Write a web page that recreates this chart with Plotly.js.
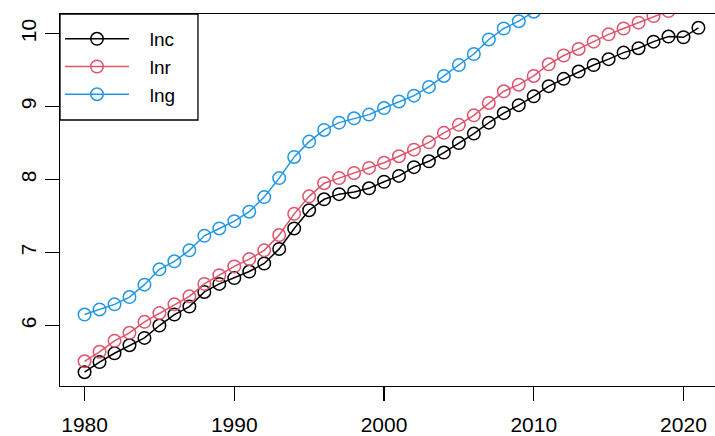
<!DOCTYPE html>
<html>
<head>
<meta charset="utf-8">
<script src="https://cdn.plot.ly/plotly-3.0.1.min.js"></script>
<style>
  html, body { margin: 0; padding: 0; background: #fff; overflow: hidden; width: 715px; height: 436px; }
  #plot { width: 730px; height: 436px; }
</style>
</head>
<body>
<div id="plot"></div>
<script>
// Years observed
const years = [];
for (let y = 1980; y <= 2021; y++) years.push(y);

// Log series
const lnc = [5.36, 5.50, 5.62, 5.73, 5.83, 6.00, 6.15, 6.26, 6.46, 6.57,
             6.65, 6.74, 6.85, 7.05, 7.33, 7.58, 7.73, 7.80, 7.83, 7.88,
             7.97, 8.05, 8.17, 8.25, 8.37, 8.50, 8.63, 8.78, 8.91, 9.02,
             9.14, 9.28, 9.38, 9.48, 9.57, 9.65, 9.74, 9.80, 9.89, 9.96,
             9.95, 10.08];
const lnr = [5.51, 5.64, 5.79, 5.90, 6.05, 6.17, 6.29, 6.40, 6.57, 6.69,
             6.81, 6.91, 7.03, 7.24, 7.53, 7.77, 7.95, 8.02, 8.09, 8.16,
             8.23, 8.32, 8.41, 8.51, 8.64, 8.75, 8.88, 9.05, 9.21, 9.30,
             9.42, 9.58, 9.70, 9.79, 9.89, 9.99, 10.07, 10.15, 10.24, 10.31];
const lng = [6.15, 6.22, 6.29, 6.39, 6.56, 6.77, 6.88, 7.03, 7.23, 7.33,
             7.43, 7.56, 7.76, 8.02, 8.31, 8.52, 8.68, 8.78, 8.84, 8.89,
             8.98, 9.07, 9.15, 9.27, 9.42, 9.57, 9.72, 9.92, 10.07, 10.17,
             10.30];

const seriesNames = ['lnc', 'lnr', 'lng'];
const seriesColors = ['#000000', '#DF536B', '#2297E6'];
const seriesValues = [lnc, lnr, lng];
const xTicks = [1980, 1990, 2000, 2010, 2020];
const yTicks = [6, 7, 8, 9, 10];

const FONT = '"Liberation Sans", Arial, Helvetica, sans-serif';
// extra room between legend key and label
const LEGEND_GAP = '\u00a0\u00a0\u00a0';

// axis limits padded 4% around the lnc range, as base R does
const pad = (lo, hi) => { const d = (hi - lo) * 0.04; return [lo - d, hi + d]; };
const xr = pad(years[0], years[years.length - 1]);
const yr = pad(Math.min(...lnc), Math.max(...lnc));

const traces = seriesValues.map((vals, i) => ({
  type: 'scatter',
  mode: 'lines+markers',
  name: LEGEND_GAP + seriesNames[i],
  x: years.slice(0, vals.length),
  y: vals,
  line: { color: seriesColors[i], width: 1.5 },
  marker: { symbol: 'circle-open', size: 12.5, color: seriesColors[i], line: { width: 1.5, color: seriesColors[i] } },
  cliponaxis: true
}));

const axisCommon = {
  showgrid: false,
  zeroline: false,
  showline: true,
  mirror: true,
  linecolor: '#000',
  linewidth: 1.3,
  ticks: 'outside',
  ticklen: 14,
  tickwidth: 1.3,
  tickcolor: '#000',
  tickfont: { family: FONT, size: 21, color: '#000' }
};

const layout = {
  width: 730,
  height: 436,
  margin: { l: 60, r: 7, t: 14, b: 50 },
  paper_bgcolor: '#fff',
  plot_bgcolor: '#fff',
  showlegend: true,
  xaxis: Object.assign({}, axisCommon, {
    range: xr, tickmode: 'array', tickvals: xTicks, ticktext: xTicks.map(String),
    ticklabelstandoff: 5
  }),
  yaxis: Object.assign({}, axisCommon, {
    range: yr, tickmode: 'array', tickvals: yTicks, ticktext: yTicks.map(String),
    tickangle: -90, ticklabelstandoff: 0
  }),
  legend: {
    x: 0, y: 0.984, xanchor: 'left', yanchor: 'top',
    bgcolor: 'rgba(0,0,0,0)', borderwidth: 0,
    font: { family: FONT, size: 19, color: '#000' },
    itemwidth: 64,
    tracegroupgap: 0
  },
  shapes: [{
    type: 'rect', xref: 'paper', yref: 'paper',
    x0: 0, x1: 0.2081, y0: 0.715, y1: 1,
    line: { color: '#000', width: 1.3 }, fillcolor: 'rgba(0,0,0,0)', layer: 'above'
  }]
};

Plotly.newPlot('plot', traces, layout, { displayModeBar: false, staticPlot: true });
</script>
</body>
</html>
